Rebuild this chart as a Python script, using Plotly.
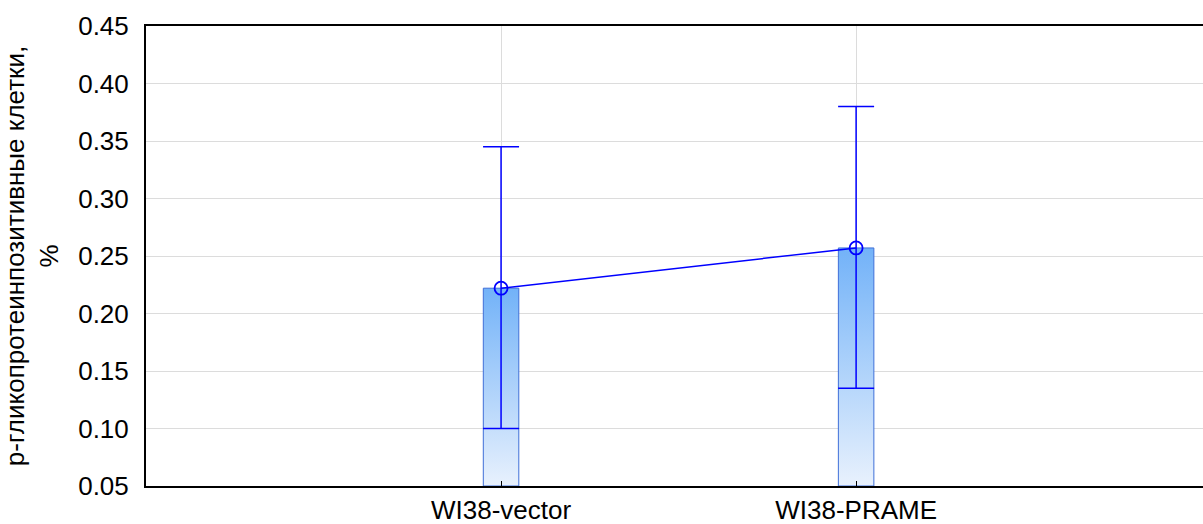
import plotly.graph_objects as go

categories = ["WI38-vector", "WI38-PRAME"]
means = [0.222, 0.257]
upper = [0.345, 0.380]
lower = [0.100, 0.135]
y_ticks = [0.05, 0.10, 0.15, 0.20, 0.25, 0.30, 0.35, 0.40, 0.45]
y_title = "р-гликопротеинпозитивные клетки,<br>%"

base = 0.05
half_w = 0.05
xs = list(range(len(categories)))

fig = go.Figure()

for i, m in zip(xs, means):
    fig.add_trace(go.Scatter(
        x=[i - half_w, i - half_w, i + half_w, i + half_w, i - half_w],
        y=[base, m, m, base, base],
        mode="lines",
        fill="toself",
        fillgradient=dict(type="vertical",
                          colorscale=[[0, "#e8f1fd"], [1, "#72b2f8"]]),
        line=dict(color="#3f6fd8", width=1),
        hoverinfo="skip",
        showlegend=False,
    ))

fig.add_trace(go.Scatter(
    x=xs,
    y=means,
    mode="lines+markers",
    line=dict(color="#0000ff", width=1.5),
    marker=dict(symbol="circle-open", size=13, color="#0000ff",
                line=dict(width=1.8, color="#0000ff")),
    error_y=dict(type="data", symmetric=False,
                 array=[u - m for u, m in zip(upper, means)],
                 arrayminus=[m - l for m, l in zip(means, lower)],
                 color="#0000ff", thickness=1.5, width=18),
    showlegend=False,
))

fig.update_layout(
    width=1203, height=524,
    margin=dict(l=146, r=0, t=26, b=38),
    plot_bgcolor="white", paper_bgcolor="white",
    font=dict(family="Liberation Sans, Arial", size=26, color="black"),
    xaxis=dict(
        range=[-1, 1.977],
        tickvals=xs, ticktext=categories,
        showgrid=True, gridcolor="#dcdcdc", gridwidth=1,
        showline=True, linecolor="black", linewidth=2, mirror=True,
        ticks="inside", ticklen=5, tickcolor="black",
        tickfont=dict(size=26),
        zeroline=False,
    ),
    yaxis=dict(
        range=[0.05, 0.45],
        tickvals=y_ticks, tickformat=".2f",
        showgrid=True, gridcolor="#dcdcdc", gridwidth=1,
        showline=True, linecolor="black", linewidth=2,
        ticks="", tickfont=dict(size=26),
        ticklabelstandoff=10,
        zeroline=False,
        title=dict(text=y_title, font=dict(size=26), standoff=16),
    ),
)

fig.write_html("out.html")
